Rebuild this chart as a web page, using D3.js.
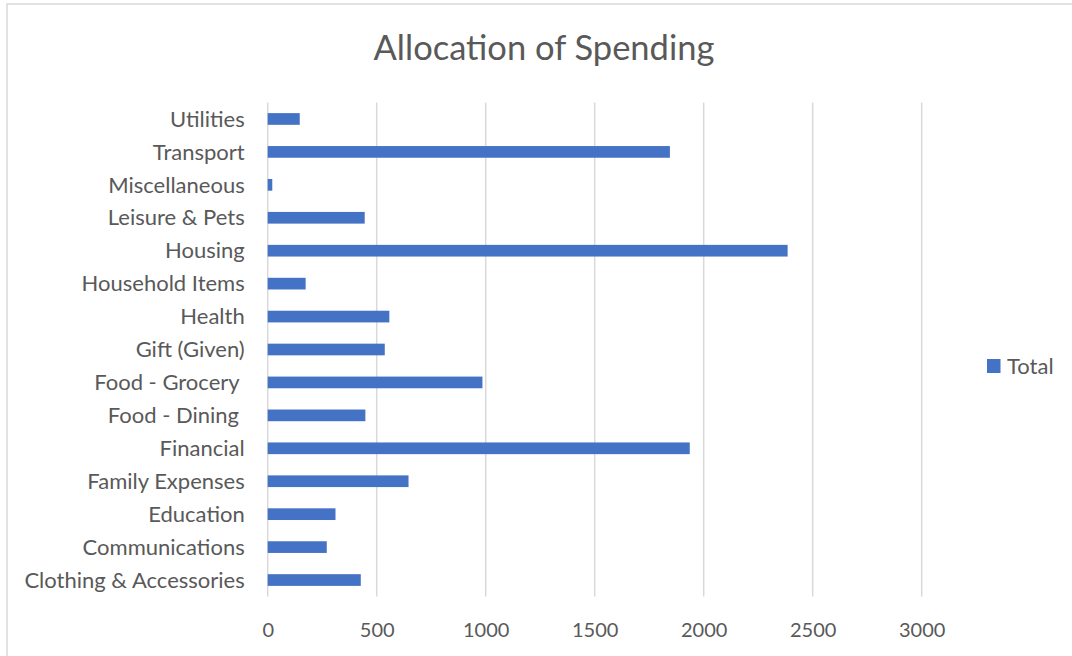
<!DOCTYPE html>
<html>
<head>
<meta charset="utf-8">
<script src="https://cdn.jsdelivr.net/npm/d3@7"></script>
<style>
  html, body { margin: 0; padding: 0; background: #fff; }
  svg { display: block; }
  text { font-family: Lato, "Open Sans", sans-serif; fill: #595959; white-space: pre; }
</style>
</head>
<body>
<svg id="chart" width="1072" height="656"></svg>
<script>
// Spending categories, listed top to bottom as drawn
const categories = [
  "Utilities", "Transport", "Miscellaneous", "Leisure & Pets", "Housing",
  "Household Items", "Health", "Gift (Given)", "Food - Grocery ", "Food - Dining ",
  "Financial", "Family Expenses", "Education", "Communications", "Clothing & Accessories"
];
const totals = [147, 1845, 21, 445, 2385, 174, 558, 537, 985, 448, 1936, 646, 311, 271, 427];
const xTicks = [0, 500, 1000, 1500, 2000, 2500, 3000];
const seriesName = "Total";
const chartTitle = "Allocation of Spending";

const svg = d3.select("#chart");
const W = 1072, H = 656;
const plot = { left: 267.7, right: 921.7, top: 102.5, bottom: 596.5 };

// Chart area frame
svg.append("rect")
  .attr("x", 7).attr("y", 4)
  .attr("width", W + 20).attr("height", H + 20)
  .attr("fill", "#fff").attr("stroke", "#d9d9d9").attr("stroke-width", 1.5);

const x = d3.scaleLinear().domain([0, 3000]).range([plot.left, plot.right]);
const y = d3.scaleBand().domain(categories).range([plot.top, plot.bottom]).paddingInner(0.645).paddingOuter(0.3225);

// Vertical gridlines
svg.append("g").selectAll("line").data(xTicks).join("line")
  .attr("x1", d => x(d)).attr("x2", d => x(d))
  .attr("y1", plot.top).attr("y2", plot.bottom)
  .attr("stroke", "#d9d9d9").attr("stroke-width", 1.5);

// Bars
svg.append("g").selectAll("rect").data(categories).join("rect")
  .attr("x", x(0))
  .attr("y", d => y(d))
  .attr("width", (d, i) => x(totals[i]) - x(0))
  .attr("height", y.bandwidth())
  .attr("fill", "#4472c4");

// Category labels (trailing spaces kept)
const yAxis = d3.axisLeft(y).tickSize(0).tickPadding(0);
const gy = svg.append("g").attr("transform", `translate(${plot.left - 23},0)`).call(yAxis);
gy.select(".domain").remove();
gy.selectAll("text").attr("font-size", 22).style("font-family", "Lato, sans-serif")
  .style("white-space", "pre").attr("xml:space", "preserve")
  .attr("fill", "#595959").attr("dy", "0.35em");

// Value axis labels
const xAxis = d3.axisBottom(x).tickValues(xTicks).tickSize(0).tickPadding(0).tickFormat(d3.format("d"));
const gx = svg.append("g").attr("transform", `translate(0,${plot.bottom + 33})`).call(xAxis);
gx.select(".domain").remove();
gx.selectAll("text").attr("font-size", 20).style("font-family", "Lato, sans-serif").attr("fill", "#595959").attr("dy", "0.35em");

// Title
svg.append("text")
  .attr("x", 544).attr("y", 51)
  .attr("text-anchor", "middle").attr("dominant-baseline", "middle")
  .attr("font-size", 34.5)
  .text(chartTitle);

// Legend
const legend = svg.append("g").attr("transform", "translate(987,359)");
legend.append("rect").attr("width", 13.5).attr("height", 14).attr("fill", "#4472c4");
legend.append("text").attr("x", 20).attr("y", 7).attr("dy", "0.35em")
  .attr("font-size", 22).text(seriesName);
</script>
</body>
</html>
